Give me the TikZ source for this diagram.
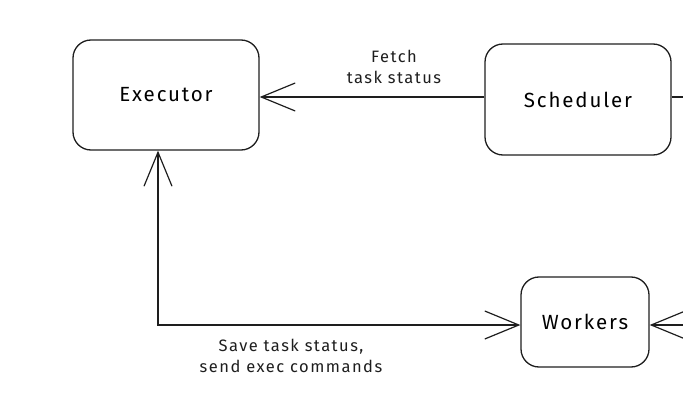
\documentclass[tikz,border=0pt]{standalone}
\usepackage{fontspec}
\setmainfont{Fira Sans}[LetterSpace=9]
\usepackage{xcolor}
\usetikzlibrary{positioning,arrows.meta,calc}
\definecolor{ink}{HTML}{1E1E1E}
\tikzset{
  box/.style={draw=ink,line width=1.3pt,rounded corners=18pt,align=center,inner sep=0pt,font=\fontsize{20.5}{24}\selectfont},
  arr/.style={-{Straight Barb[length=34pt,width=28pt,line width=1.2pt]},draw=ink,line width=1.2pt},
  both/.style={{Straight Barb[length=34pt,width=28pt,line width=1.2pt]}-{Straight Barb[length=34pt,width=28pt,line width=1.2pt]},draw=ink,line width=1.2pt},
  lbl/.style={align=center,font=\fontsize{16.5}{21}\selectfont,text=ink}
}

\begin{document}
\begin{tikzpicture}[x=1pt,y=-1pt]
\useasboundingbox (0,0) rectangle (683,401);
\node[box, minimum width=186pt, minimum height=110pt] (exec) at (166,95) {Executor};
\node[box, minimum width=186pt, minimum height=111pt] (sched) at (578,99.5) {Scheduler};
\node[box, minimum width=128pt, minimum height=90pt] (workers) at (585,322) {Workers};

\coordinate (schedout) at (690,97);
\coordinate (workin) at (690,325);
\coordinate (corner) at (158,325);

\draw[arr] (sched.west |- 0,97) -- (exec.east |- 0,97);
\draw[draw=ink,line width=1.2pt] (sched.east |- schedout) -- (schedout);
\draw[arr] (workin) -- (workers.east |- workin);
\draw[both] (exec.south -| corner) -- (corner) -- (workers.west |- corner);

\node[lbl] (fetch) at (394,67) {Fetch\\task status};
\node[lbl] (save) at (291,356) {Save task status,\\send exec commands};
\end{tikzpicture}
\end{document}
